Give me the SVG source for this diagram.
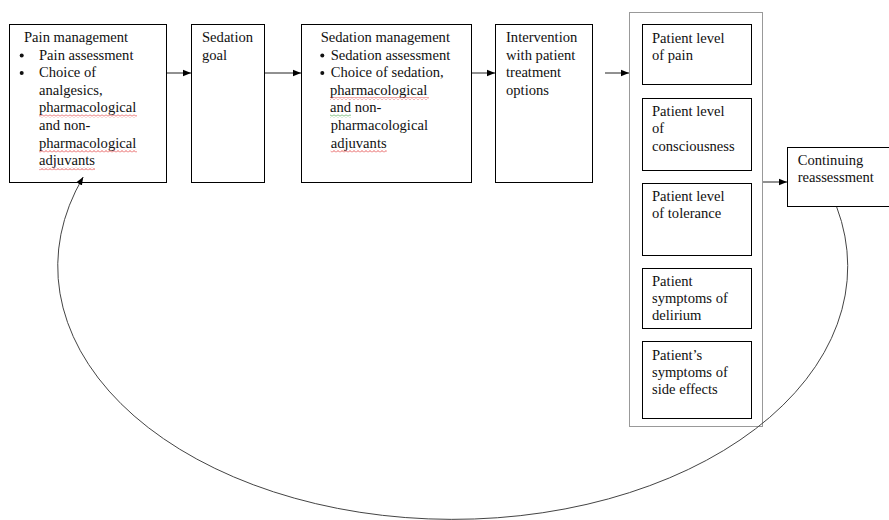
<svg xmlns="http://www.w3.org/2000/svg" width="889" height="520" viewBox="0 0 889 520">
<style>
.box{fill:#fff;stroke:#000;stroke-width:1}
.cont{fill:#fff;stroke:#999;stroke-width:1}
text{font-family:"Liberation Serif","Times New Roman",serif;font-size:14.6px;fill:#111}
.conn{fill:none;stroke:#222;stroke-width:1}
.curve{fill:none;stroke:#444;stroke-width:1}
.dot{fill:#111}
</style>
<defs>
<marker id="ah" viewBox="0 0 10 10" refX="10" refY="5" markerWidth="8" markerHeight="8" markerUnits="userSpaceOnUse" orient="auto">
<path d="M0,1 L10,5 L0,9 z" fill="#000"/>
</marker>
<pattern id="wr" width="4" height="3" patternUnits="userSpaceOnUse">
<polyline points="0,2.5 2,0.5 4,2.5" fill="none" stroke="#e03030" stroke-width="0.8"/>
</pattern>
<pattern id="wg" width="4" height="3" patternUnits="userSpaceOnUse">
<polyline points="0,2.5 2,0.5 4,2.5" fill="none" stroke="#3a9a3a" stroke-width="0.8"/>
</pattern>
</defs>

<g id="pain-management">
<rect class="box" x="9.5" y="24.5" width="157" height="158"/>
<text x="24" y="42">Pain management</text>
<circle class="dot" cx="21.7" cy="55.5" r="2"/>
<text x="39" y="59.6">Pain assessment</text>
<circle class="dot" cx="21.7" cy="73.1" r="2"/>
<text x="39" y="77.2">Choice of</text>
<text x="39" y="94.8">analgesics,</text>
<text x="39" y="112.4">pharmacological</text>
<text x="39" y="130">and non-</text>
<text x="39" y="147.6">pharmacological</text>
<text x="39" y="165.2">adjuvants</text>
<rect x="39" y="114.5" width="98" height="3" fill="url(#wr)"/>
<rect x="39" y="149.7" width="98" height="3" fill="url(#wr)"/>
<rect x="39" y="167.3" width="56" height="3" fill="url(#wr)"/>
</g>

<g id="sedation-goal">
<rect class="box" x="191.5" y="24.5" width="73" height="158"/>
<text x="202" y="42">Sedation</text>
<text x="202" y="59.6">goal</text>
</g>

<g id="sedation-management">
<rect class="box" x="301.5" y="24.5" width="170" height="158"/>
<text x="320.7" y="42">Sedation management</text>
<circle class="dot" cx="322.3" cy="55.5" r="2"/>
<text x="330.7" y="59.6">Sedation assessment</text>
<circle class="dot" cx="322.3" cy="73.1" r="2"/>
<text x="330.7" y="77.2">Choice of sedation,</text>
<text x="330" y="94.8">pharmacological</text>
<text x="330" y="112.4">and non-</text>
<text x="330.7" y="130">pharmacological</text>
<text x="330.7" y="147.6">adjuvants</text>
<rect x="330" y="97" width="99" height="3" fill="url(#wr)"/>
<rect x="330" y="114.5" width="21" height="3" fill="url(#wg)"/>
<rect x="330.7" y="149.7" width="56" height="3" fill="url(#wr)"/>
</g>

<g id="intervention">
<rect class="box" x="495.5" y="24.5" width="97" height="158"/>
<text x="506" y="42">Intervention</text>
<text x="506" y="59.6">with patient</text>
<text x="506" y="77.2">treatment</text>
<text x="506" y="94.8">options</text>
</g>

<g id="patient-levels">
<rect class="cont" x="629.5" y="12.5" width="133" height="414"/>
<g id="level-pain">
<rect class="box" x="642.5" y="24.5" width="109" height="60"/>
<text x="652" y="42.5">Patient level</text>
<text x="652" y="60">of pain</text>
</g>
<g id="level-consciousness">
<rect class="box" x="642.5" y="98.5" width="109" height="72"/>
<text x="652" y="115.5">Patient level</text>
<text x="652" y="133">of</text>
<text x="652" y="150.5">consciousness</text>
</g>
<g id="level-tolerance">
<rect class="box" x="642.5" y="183.5" width="109" height="72"/>
<text x="652" y="201">Patient level</text>
<text x="652" y="218">of tolerance</text>
</g>
<g id="symptoms-delirium">
<rect class="box" x="642.5" y="268.5" width="109" height="60"/>
<text x="652" y="286">Patient</text>
<text x="652" y="303.3">symptoms of</text>
<text x="652" y="320">delirium</text>
</g>
<g id="symptoms-side-effects">
<rect class="box" x="642.5" y="341.5" width="109" height="77"/>
<text x="652" y="359.5">Patient’s</text>
<text x="652" y="376.8">symptoms of</text>
<text x="652" y="393.5">side effects</text>
</g>
</g>

<g id="continuing-reassessment">
<rect class="box" x="787.5" y="147.5" width="103" height="59"/>
<text x="797.7" y="164.5">Continuing</text>
<text x="797.7" y="181.8">reassessment</text>
</g>

<g id="connectors">
<line class="conn" x1="167" y1="73" x2="191" y2="73" marker-end="url(#ah)"/>
<line class="conn" x1="265" y1="73" x2="301" y2="73" marker-end="url(#ah)"/>
<line class="conn" x1="472" y1="73" x2="495" y2="73" marker-end="url(#ah)"/>
<line class="conn" x1="605" y1="73" x2="629" y2="73" marker-end="url(#ah)"/>
<line class="conn" x1="763" y1="182" x2="787" y2="182" marker-end="url(#ah)"/>
<path class="curve" d="M836.7,207 A395,253 0 1 1 83.2,177" marker-end="url(#ah)"/>
</g>
</svg>
